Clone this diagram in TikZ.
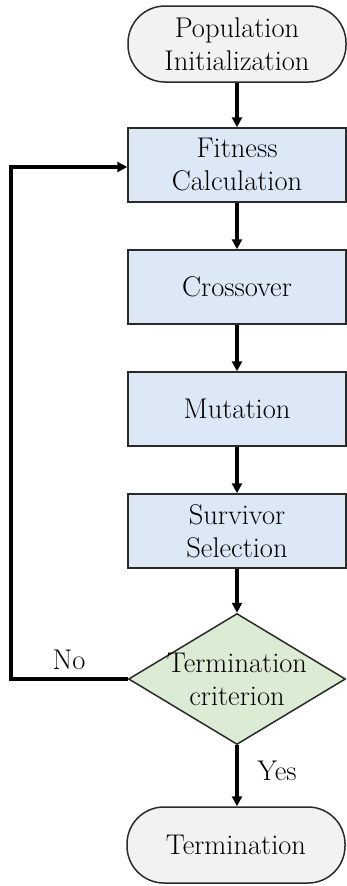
\documentclass[tikz,border=0pt]{standalone}
\usetikzlibrary{shapes.geometric,arrows.meta}
\definecolor{termfill}{HTML}{F2F2F2}
\definecolor{procfill}{HTML}{DCE8F5}
\definecolor{decfill}{HTML}{DCEBD4}
\definecolor{edgecol}{HTML}{2A2A2A}
\begin{document}
\begin{tikzpicture}[x=1pt,y=-1pt,
  every node/.style={font=\fontsize{28.5}{33}\selectfont, align=center},
  terminal/.style={draw=edgecol, line width=1.5pt, fill=termfill, rectangle, rounded corners=37pt, minimum width=218pt, minimum height=76pt, inner sep=0pt},
  process/.style={draw=edgecol, line width=1.5pt, fill=procfill, rectangle, minimum width=218pt, minimum height=74pt, inner sep=0pt},
  decision/.style={draw=edgecol, line width=1.5pt, fill=decfill, diamond, minimum width=217pt, minimum height=131pt, inner sep=0pt},
  flow/.style={line width=3.2pt, -{Triangle[length=10pt,width=10pt]}}
]
\useasboundingbox (0,0) rectangle (347,886);
\node[terminal] (start) at (237,44) {Population\\Initialization};
\node[process] (fit) at (237,165) {Fitness\\Calculation};
\node[process] (cross) at (237,287) {Crossover};
\node[process] (mut) at (237,409) {Mutation};
\node[process] (surv) at (237,531) {Survivor\\Selection};
\node[decision] (dec) at (237,679) {};
\node (dectext) at (dec.center) {Termination\\criterion};
\node[terminal] (term) at (236,845) {Termination};
\coordinate (c1) at (11,679);
\coordinate (c2) at (11,167);
\draw[flow] (start) -- (fit);
\draw[flow] (fit) -- (cross);
\draw[flow] (cross) -- (mut);
\draw[flow] (mut) -- (surv);
\draw[flow] (surv) -- (dec.north);
\draw[flow] (dec.south) -- (dec.south |- term.north);
\node (yes) at (277,771) {Yes};
\draw[flow] (dec.west) -- (c1) -- (c2) -- (fit.west |- c2);
\node (no) at (69,660) {No};
\end{tikzpicture}
\end{document}
